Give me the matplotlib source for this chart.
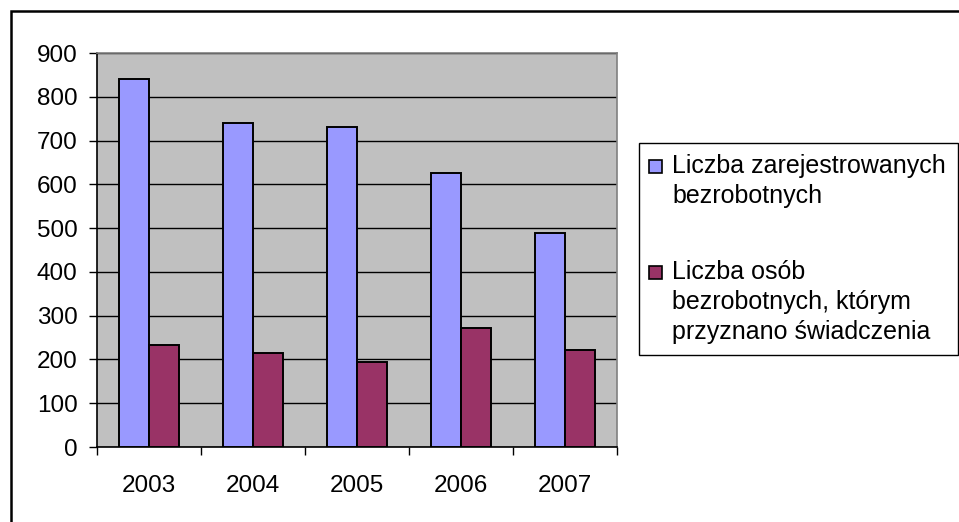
import matplotlib.pyplot as plt
from matplotlib.patches import Rectangle
import numpy as np

plt.rcParams['font.family'] = ['Liberation Sans', 'DejaVu Sans']

# dane
lata = ["2003", "2004", "2005", "2006", "2007"]
zarejestrowani = [840, 740, 730, 626, 488]
ze_swiadczeniem = [232, 214, 195, 272, 222]
etykiety = ["Liczba zarejestrowanych\nbezrobotnych",
            "Liczba osób\nbezrobotnych, którym\nprzyznano świadczenia"]
kolory = ["#9999FF", "#993366"]

W, H = 959, 522
fig = plt.figure(figsize=(W / 100, H / 100), dpi=100)
ax = fig.add_axes([97 / W, 1 - 447 / H, 520 / W, 394 / H])
ax.set_facecolor("#C0C0C0")

x = np.arange(len(lata)) + 0.5
w = 1 / 3.5
ax.bar(x - w / 2, zarejestrowani, w, color=kolory[0], edgecolor="black",
       linewidth=1.4, zorder=3)
ax.bar(x + w / 2, ze_swiadczeniem, w, color=kolory[1], edgecolor="black",
       linewidth=1.4, zorder=3)

ax.set_xlim(0, len(lata))
ax.set_ylim(0, 900)
ax.set_yticks(range(0, 901, 100))
ax.yaxis.grid(True, color="black", linewidth=1.0, zorder=1)
ax.set_axisbelow(True)

# ticks na granicach kategorii, podpisy na srodku
ax.set_xticks(range(len(lata) + 1))
ax.set_xticklabels([])
ax.set_xticks(x, minor=True)
ax.set_xticklabels(lata, minor=True)
ax.tick_params(axis="x", which="major", direction="out", length=6, width=1)
ax.tick_params(axis="x", which="minor", length=0, pad=20, labelsize=17.5)
ax.tick_params(axis="y", direction="out", length=6, width=1, pad=8, labelsize=17.5)

for s in ["top", "right"]:
    ax.spines[s].set_color("#808080")
    ax.spines[s].set_linewidth(1.2)
for s in ["left", "bottom"]:
    ax.spines[s].set_color("black")
    ax.spines[s].set_linewidth(1.2)

# legenda rysowana recznie (kwadrat przy pierwszej linii opisu)
tf = fig.transFigure
fig.add_artist(Rectangle((639 / W, 1 - 355 / H), 319 / W, 212 / H, transform=tf,
                         facecolor="white", edgecolor="black", linewidth=1.0))
pierwsza_linia = [173, 279]
for kolor, opis, y0 in zip(kolory, etykiety, pierwsza_linia):
    fig.add_artist(Rectangle((649 / W, 1 - y0 / H), 13 / W, 13 / H, transform=tf,
                             facecolor=kolor, edgecolor="black", linewidth=1.2))
    for i, linia in enumerate(opis.split("\n")):
        fig.text(672 / W, 1 - (y0 + 30 * i) / H, linia, fontsize=18,
                 va="baseline", ha="left")

# ramka wykresu
fig.add_artist(Rectangle((11 / W, -0.1), 1.1, 1.1 - 11 / H, transform=tf,
                         fill=False, edgecolor="black", linewidth=1.8,
                         clip_on=False))

fig.savefig("out.png", dpi=100)
